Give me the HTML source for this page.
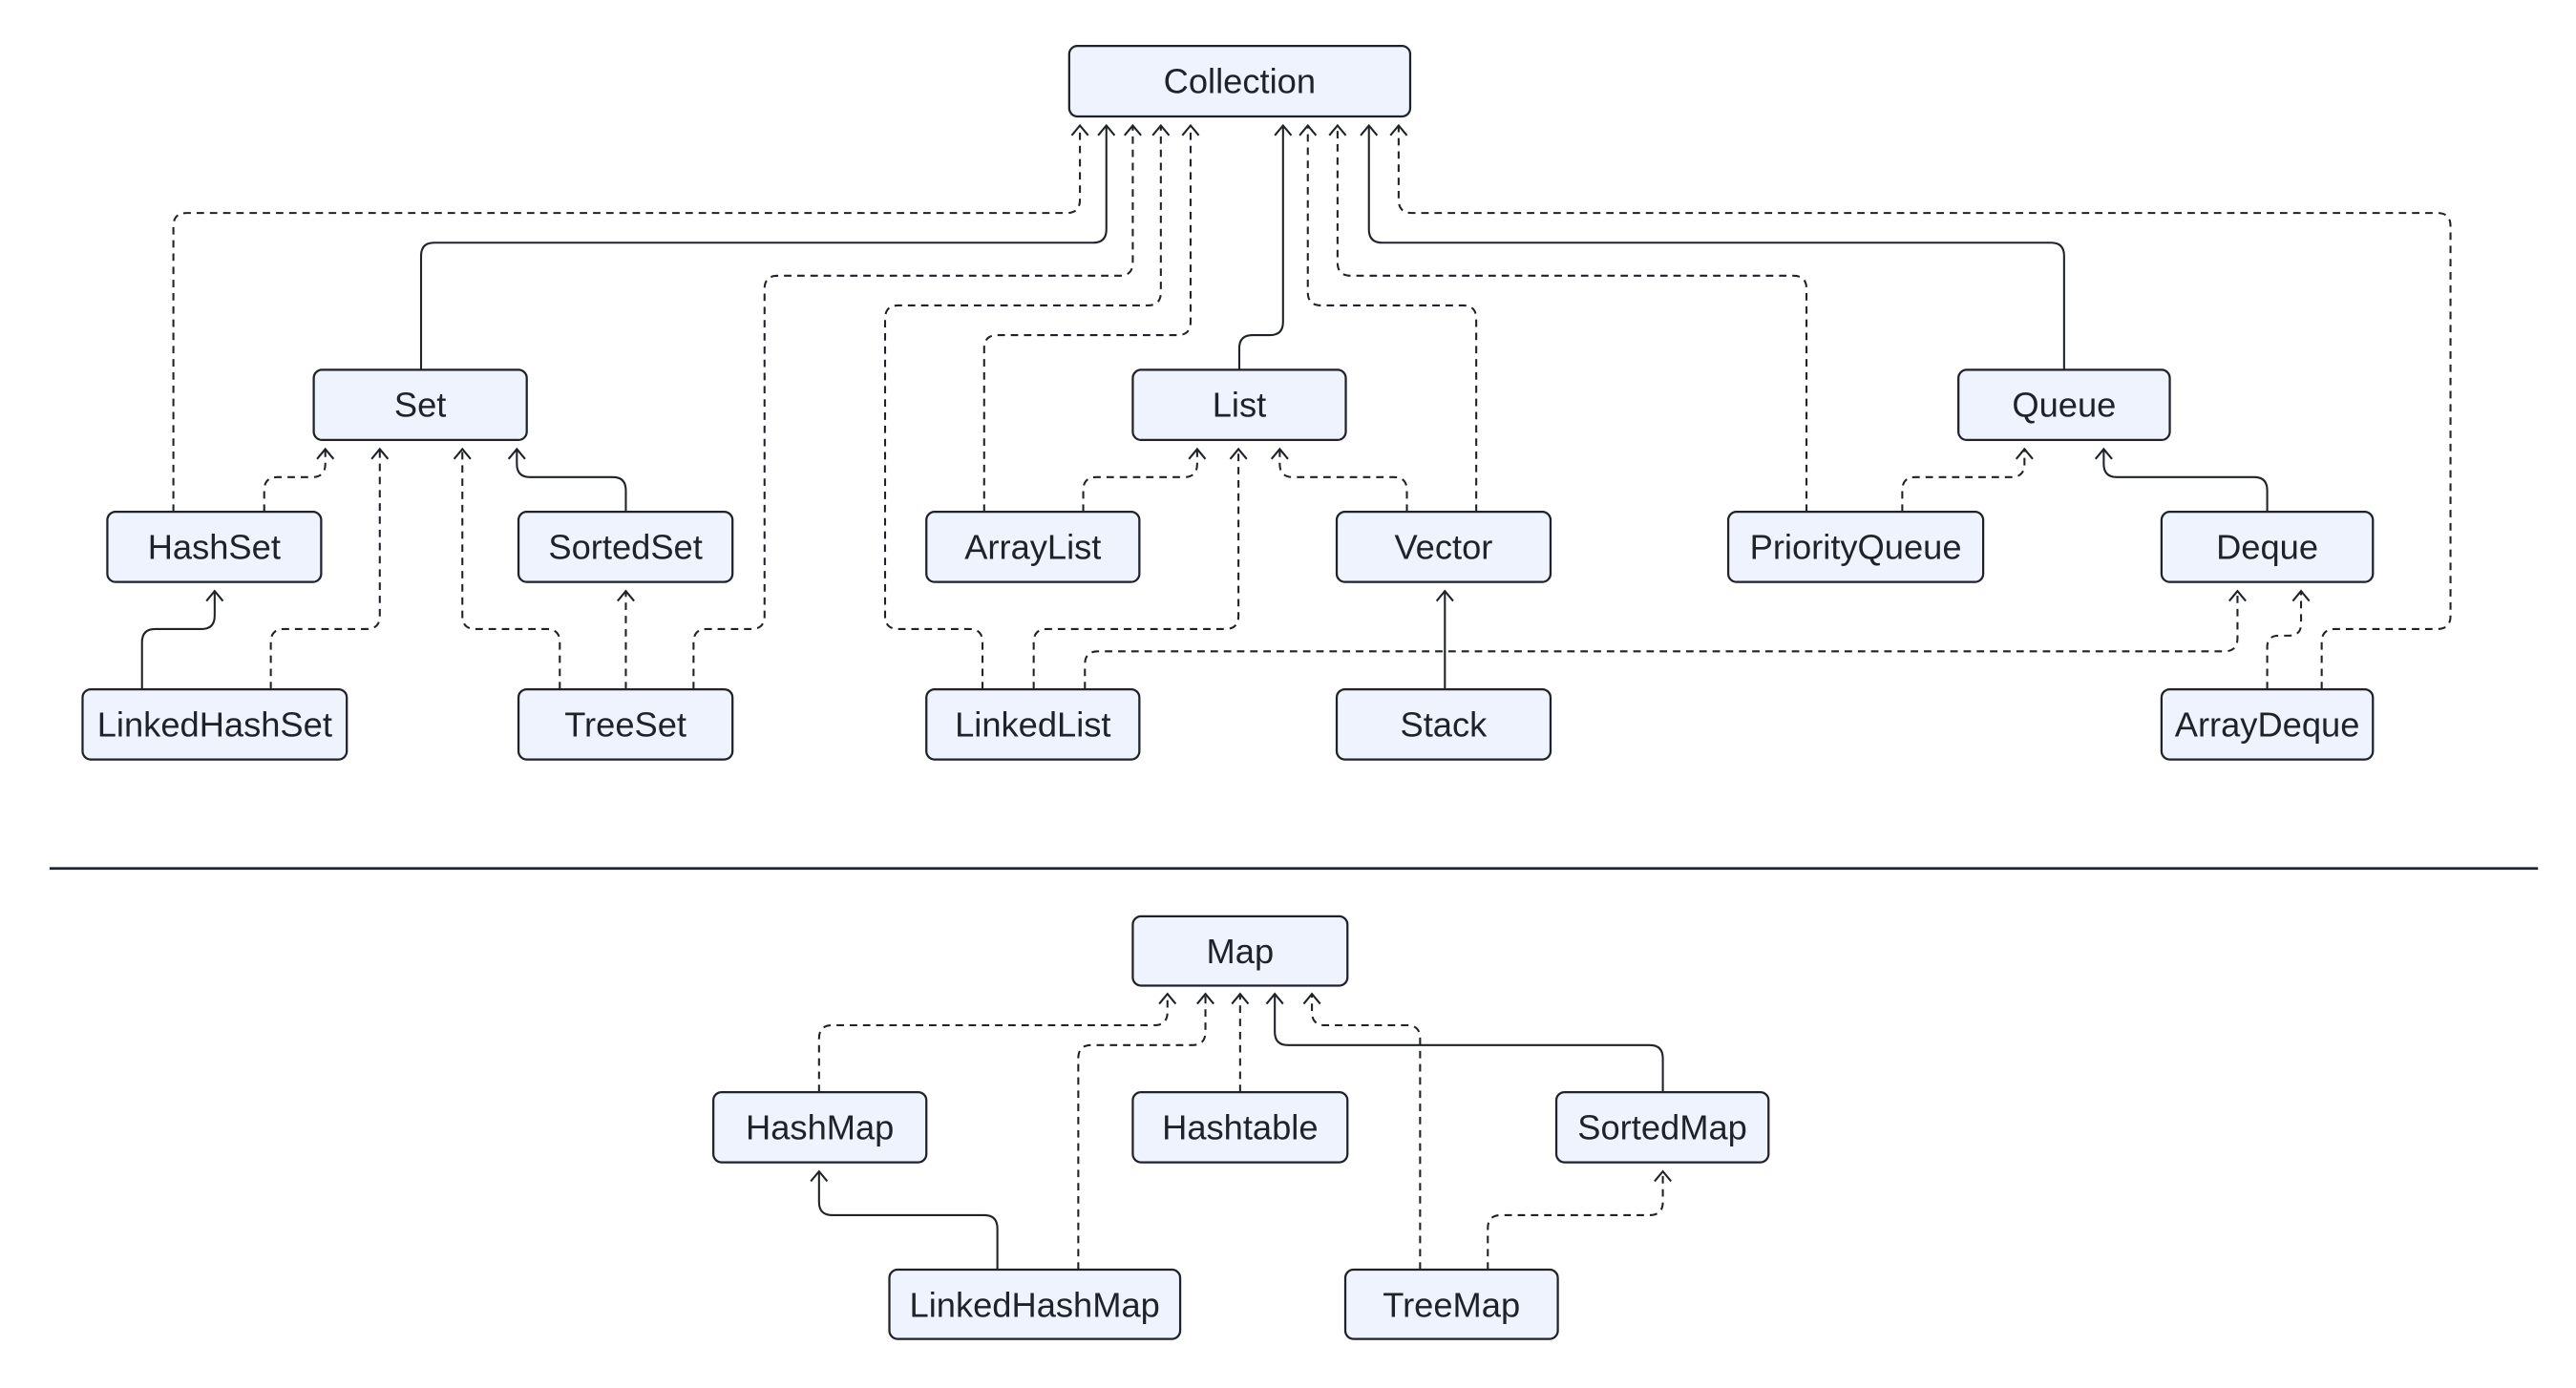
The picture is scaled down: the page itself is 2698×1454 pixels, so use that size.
<!DOCTYPE html>
<html><head><meta charset="utf-8"><style>
html,body{margin:0;padding:0;background:#fff;}
svg{display:block;}
text{font-family:"Liberation Sans",sans-serif;font-size:21px;fill:#1f2329;text-anchor:middle;}
.b{fill:#eef3fd;stroke:#1f2329;stroke-width:1.3;}
.s{fill:none;stroke:#1f2329;stroke-width:1.2;}
.d{fill:none;stroke:#1f2329;stroke-width:1.2;stroke-dasharray:4.5 3.5;}
.a{fill:none;stroke:#1f2329;stroke-width:1.2;stroke-linejoin:miter;}
</style></head><body>
<svg width="2698" height="1454" viewBox="0 0 1560 840.7" xmlns="http://www.w3.org/2000/svg">
<rect width="1560" height="841" fill="#fff"/>
<!-- connectors -->
<path class="d" d="M105 310 V137 Q105 129 113 129 H646 Q654 129 654 121 V76"/>
<path class="s" d="M255 224 V155 Q255 147 263 147 H662 Q670 147 670 139 V76"/>
<path class="d" d="M420 417.5 V389 Q420 381 428 381 H455 Q463 381 463 373 V175 Q463 167 471 167 H678 Q686 167 686 159 V76"/>
<path class="d" d="M595 417.5 V389 Q595 381 587 381 H544 Q536 381 536 373 V193 Q536 185 544 185 H695 Q703 185 703 177 V76"/>
<path class="d" d="M596 310 V211 Q596 203 604 203 H713 Q721 203 721 195 V76"/>
<path class="s" d="M750.5 224 V211 Q750.5 203 758.5 203 H769 Q777 203 777 195 V76"/>
<path class="d" d="M894 310 V193 Q894 185 886 185 H800 Q792 185 792 177 V76"/>
<path class="d" d="M1094 310 V175 Q1094 167 1086 167 H818 Q810 167 810 159 V76"/>
<path class="s" d="M1250 224 V155 Q1250 147 1242 147 H837 Q829 147 829 139 V76"/>
<path class="d" d="M1406 417.5 V389 Q1406 381 1414 381 H1476 Q1484 381 1484 373 V137 Q1484 129 1476 129 H855 Q847 129 847 121 V76"/>

<path class="d" d="M160 310 V297 Q160 289 168 289 H189 Q197 289 197 281 V272"/>
<path class="d" d="M164 417.5 V389 Q164 381 172 381 H222 Q230 381 230 373 V272"/>
<path class="d" d="M339 417.5 V389 Q339 381 331 381 H288 Q280 381 280 373 V272"/>
<path class="s" d="M379 310 V297 Q379 289 371 289 H321 Q313 289 313 281 V272"/>
<path class="d" d="M379 417.5 V358"/>
<path class="s" d="M86 417.5 V389 Q86 381 94 381 H122 Q130 381 130 373 V358"/>

<path class="d" d="M656 310 V297 Q656 289 664 289 H717 Q725 289 725 281 V272"/>
<path class="d" d="M626 417.5 V389 Q626 381 634 381 H742 Q750 381 750 373 V272"/>
<path class="d" d="M852 310 V297 Q852 289 844 289 H783 Q775 289 775 281 V272"/>
<path class="s" d="M875 417.5 V358"/>

<path class="d" d="M1152 310 V297 Q1152 289 1160 289 H1218 Q1226 289 1226 281 V272"/>
<path class="s" d="M1373 310 V297 Q1373 289 1365 289 H1282 Q1274 289 1274 281 V272"/>
<path class="d" d="M657 417.5 V402.5 Q657 394.5 665 394.5 H1347 Q1355 394.5 1355 386.5 V358"/>
<path class="d" d="M1373 417.5 V392 Q1373 385 1380 385 H1386 Q1393.5 385 1393.5 378 V358"/>

<line x1="30" y1="526" x2="1537" y2="526" stroke="#1f2329" stroke-width="1.6"/>

<path class="d" d="M496 661.5 V629 Q496 621 504 621 H699 Q707 621 707 613 V602"/>
<path class="d" d="M653 769 V641 Q653 633 661 633 H722 Q730 633 730 625 V602"/>
<path class="d" d="M751 661.5 V602"/>
<path class="s" d="M1007 661.5 V641 Q1007 633 999 633 H780 Q772 633 772 625 V602"/>
<path class="d" d="M860 769 V629 Q860 621 852 621 H802.5 Q794.5 621 794.5 613 V602"/>
<path class="s" d="M604 769 V744 Q604 736 596 736 H504 Q496 736 496 728 V709.5"/>
<path class="d" d="M901 769 V744 Q901 736 909 736 H999 Q1007 736 1007 728 V709.5"/>

<!-- arrowheads -->
<g class="a">
<path d="M649 82 L654 76 L659 82"/><path d="M665 82 L670 76 L675 82"/><path d="M681 82 L686 76 L691 82"/><path d="M698 82 L703 76 L708 82"/><path d="M716 82 L721 76 L726 82"/>
<path d="M772 82 L777 76 L782 82"/><path d="M787 82 L792 76 L797 82"/><path d="M805 82 L810 76 L815 82"/><path d="M824 82 L829 76 L834 82"/><path d="M842 82 L847 76 L852 82"/>
<path d="M192 278 L197 272 L202 278"/><path d="M225 278 L230 272 L235 278"/><path d="M275 278 L280 272 L285 278"/><path d="M308 278 L313 272 L318 278"/>
<path d="M720 278 L725 272 L730 278"/><path d="M745 278 L750 272 L755 278"/><path d="M770 278 L775 272 L780 278"/>
<path d="M1221 278 L1226 272 L1231 278"/><path d="M1269 278 L1274 272 L1279 278"/>
<path d="M125 364 L130 358 L135 364"/><path d="M374 364 L379 358 L384 364"/><path d="M870 364 L875 358 L880 364"/>
<path d="M1350 364 L1355 358 L1360 364"/><path d="M1388.5 364 L1393.5 358 L1398.5 364"/>
<path d="M702 608 L707 602 L712 608"/><path d="M725 608 L730 602 L735 608"/><path d="M746 608 L751 602 L756 608"/><path d="M767 608 L772 602 L777 608"/><path d="M789.5 608 L794.5 602 L799.5 608"/>
<path d="M491 715.5 L496 709.5 L501 715.5"/><path d="M1002 715.5 L1007 709.5 L1012 715.5"/>
</g>

<!-- boxes -->
<rect class="b" x="647.5" y="27.8" width="206.5" height="42.7" rx="5"/><text x="750.7" y="56.5">Collection</text>
<rect class="b" x="190" y="224" width="129" height="42.5" rx="5"/><text x="254.5" y="252.5">Set</text>
<rect class="b" x="686" y="224" width="129" height="42.5" rx="5"/><text x="750.5" y="252.5">List</text>
<rect class="b" x="1186" y="224" width="128" height="42.5" rx="5"/><text x="1250" y="252.5">Queue</text>
<rect class="b" x="65" y="310" width="129.5" height="42.5" rx="5"/><text x="129.7" y="338.5">HashSet</text>
<rect class="b" x="314" y="310" width="129.6" height="42.5" rx="5"/><text x="378.8" y="338.5">SortedSet</text>
<rect class="b" x="561" y="310" width="129" height="42.5" rx="5"/><text x="625.5" y="338.5">ArrayList</text>
<rect class="b" x="809.5" y="310" width="129.5" height="42.5" rx="5"/><text x="874.2" y="338.5">Vector</text>
<rect class="b" x="1046.6" y="310" width="154.4" height="42.5" rx="5"/><text x="1123.8" y="338.5">PriorityQueue</text>
<rect class="b" x="1309" y="310" width="128" height="42.5" rx="5"/><text x="1373" y="338.5">Deque</text>
<rect class="b" x="50" y="417.5" width="160" height="42.5" rx="5"/><text x="130" y="446">LinkedHashSet</text>
<rect class="b" x="314" y="417.5" width="129.6" height="42.5" rx="5"/><text x="378.8" y="446">TreeSet</text>
<rect class="b" x="561" y="417.5" width="129" height="42.5" rx="5"/><text x="625.5" y="446">LinkedList</text>
<rect class="b" x="809.5" y="417.5" width="129.5" height="42.5" rx="5"/><text x="874.2" y="446">Stack</text>
<rect class="b" x="1309" y="417.5" width="128" height="42.5" rx="5"/><text x="1373" y="446">ArrayDeque</text>

<rect class="b" x="686" y="555" width="130" height="42" rx="5"/><text x="751" y="583.5">Map</text>
<rect class="b" x="432" y="661.5" width="129" height="42.5" rx="5"/><text x="496.5" y="690">HashMap</text>
<rect class="b" x="686" y="661.5" width="130" height="42.5" rx="5"/><text x="751" y="690">Hashtable</text>
<rect class="b" x="942.5" y="661.5" width="128.5" height="42.5" rx="5"/><text x="1006.7" y="690">SortedMap</text>
<rect class="b" x="538.6" y="769" width="176.1" height="42" rx="5"/><text x="626.6" y="797.5">LinkedHashMap</text>
<rect class="b" x="814.7" y="769" width="128.7" height="42" rx="5"/><text x="879" y="797.5">TreeMap</text>
</svg>
</body></html>
